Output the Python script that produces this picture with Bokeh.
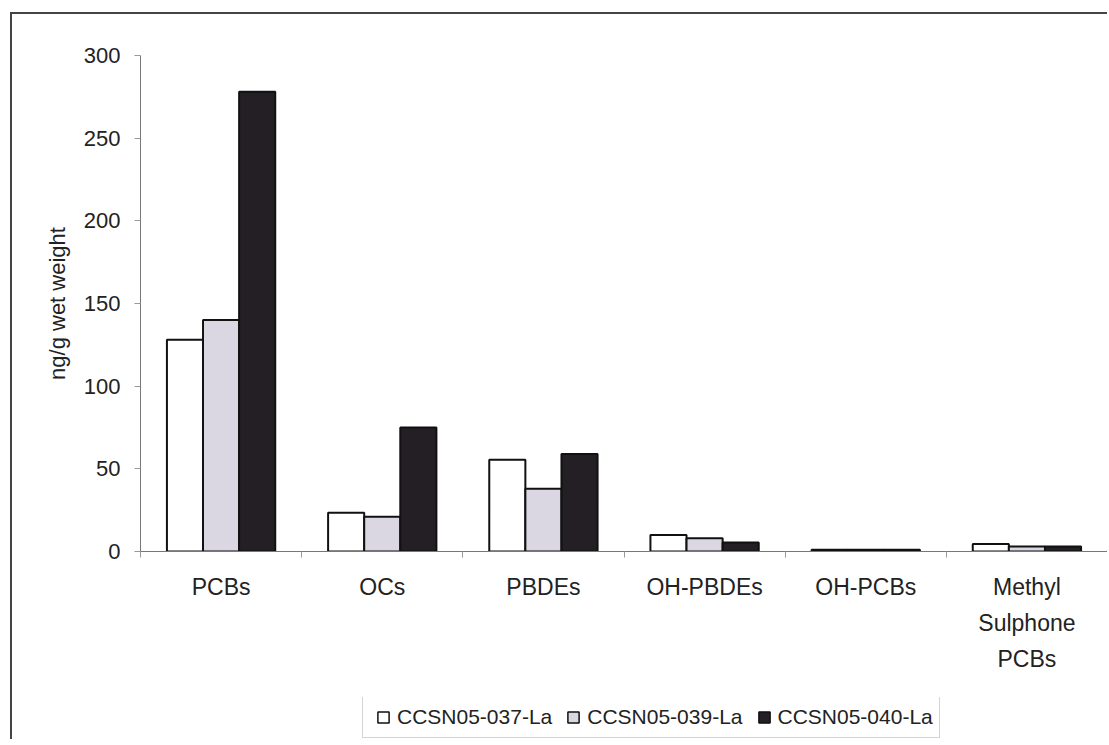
from bokeh.plotting import figure
from bokeh.models import ColumnDataSource, FixedTicker, Range1d, Legend, LegendItem
from bokeh.layouts import column
from bokeh.embed import file_html
from bokeh.resources import INLINE

categories = ["PCBs", "OCs", "PBDEs", "OH-PBDEs", "OH-PCBs", "Methyl\nSulphone\nPCBs"]
series_names = ["CCSN05-037-La", "CCSN05-039-La", "CCSN05-040-La"]
s037 = [128, 23.5, 55.5, 10, 1, 4.5]
s039 = [140, 21, 38, 8, 1, 3]
s040 = [278, 75, 59, 5.5, 1, 3]
y_ticks = [0, 50, 100, 150, 200, 250, 300]

fills = ["#ffffff", "#dad7e3", "#231f24"]
offsets = [-0.224, 0.0, 0.224]
bar_w = 0.224

FONT = "Liberation Sans"

p = figure(width=1095, height=683, output_backend="svg", toolbar_location=None,
           x_range=Range1d(0, 6), y_range=Range1d(0, 300),
           min_border_left=128, min_border_top=41, min_border_right=0, min_border_bottom=146)
p.outline_line_color = None
p.grid.visible = False

sources = []
for vals, fill, off in zip([s037, s039, s040], fills, offsets):
    src = ColumnDataSource(dict(x=[i + 0.5 + off for i in range(len(categories))], top=vals))
    sources.append(src)
    p.vbar(x="x", top="top", width=bar_w, source=src, fill_color=fill,
           line_color="#111111", line_width=2)

# x axis
p.xaxis.ticker = FixedTicker(ticks=[i + 0.5 for i in range(len(categories))],
                             minor_ticks=list(range(len(categories) + 1)))
p.xaxis.major_label_overrides = {i + 0.5: c for i, c in enumerate(categories)}
p.xaxis.major_tick_line_color = None
p.xaxis.minor_tick_in = 0
p.xaxis.minor_tick_out = 6
p.xaxis.minor_tick_line_color = "#999999"
p.xaxis.axis_line_color = "#777777"
p.xaxis.major_label_text_font = FONT
p.xaxis.major_label_text_font_size = "23px"
p.xaxis.major_label_text_color = "#222222"
p.xaxis.major_label_text_line_height = 1.4
p.xaxis.major_label_standoff = 16

# y axis
p.yaxis.ticker = FixedTicker(ticks=y_ticks)
p.yaxis.minor_tick_line_color = None
p.yaxis.major_tick_in = 0
p.yaxis.major_tick_out = 6
p.yaxis.major_tick_line_color = "#999999"
p.yaxis.axis_line_color = "#777777"
p.yaxis.major_label_text_font = FONT
p.yaxis.major_label_text_font_size = "22px"
p.yaxis.major_label_text_color = "#222222"
p.yaxis.major_label_standoff = 14
p.yaxis.axis_label = "ng/g wet weight"
p.yaxis.axis_label_text_font = FONT
p.yaxis.axis_label_text_font_size = "22px"
p.yaxis.axis_label_text_font_style = "normal"
p.yaxis.axis_label_text_color = "#222222"
p.yaxis.axis_label_standoff = 11

# legend strip below the chart: zero-size square markers that share the series
# sources (nothing is drawn in the strip; the legend draws its own swatches)
lg = figure(width=1095, height=42, output_backend="svg", toolbar_location=None,
            x_axis_type=None, y_axis_type=None,
            x_range=Range1d(0, 6), y_range=Range1d(1000, 1001),
            min_border_left=0, min_border_right=0, min_border_top=0, min_border_bottom=0)
lg.outline_line_color = None
lg.grid.visible = False
swatches = []
for src, fill in zip(sources, fills):
    swatches.append(lg.scatter(x="x", y="top", size=0, marker="square", source=src,
                               fill_color=fill, line_color="#111111", line_width=1.5))
legend = Legend(items=[LegendItem(label=n, renderers=[r]) for n, r in zip(series_names, swatches)],
                orientation="horizontal", location=(222, 1),
                label_text_font=FONT, label_text_font_size="21px", label_text_color="#222222",
                glyph_width=28, glyph_height=28, label_standoff=0, spacing=7,
                padding=6, margin=0, border_line_color="#aaaaaa", border_line_width=1.5,
                background_fill_color="#ffffff")
lg.add_layout(legend, "center")

layout = column(p, lg, spacing=0)
# outer chart-area border (left and top visible, as in the cropped original)
layout.styles = {"border-left": "2px solid #444", "border-top": "2px solid #444",
                 "margin-left": "10px", "margin-top": "12px"}

open("out.html", "w").write(file_html(layout, INLINE))
